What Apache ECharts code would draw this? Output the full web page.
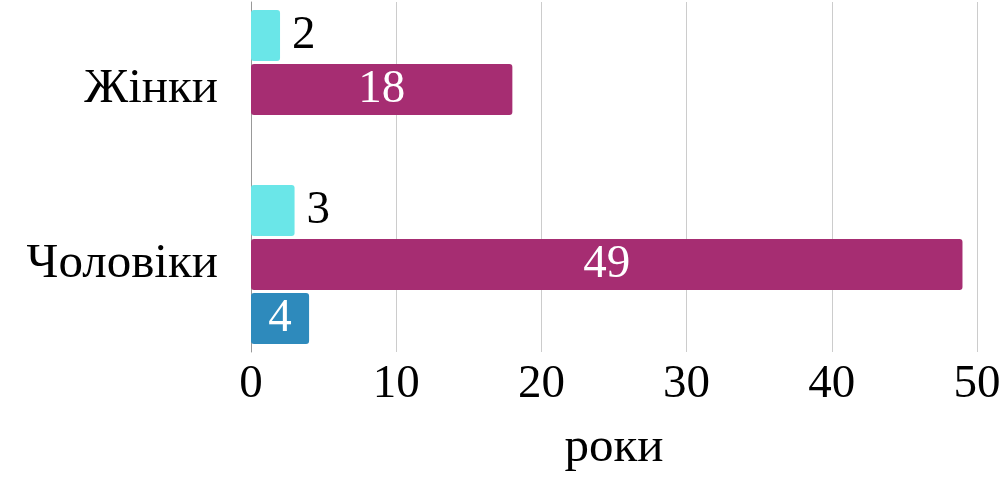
<!DOCTYPE html>
<html>
<head>
<meta charset="utf-8">
<script src="https://cdn.jsdelivr.net/npm/echarts@6.0.0/dist/echarts.min.js"></script>
<style>
  html, body { margin: 0; padding: 0; background: #fff; }
  #chart { width: 1004px; height: 478px; }
</style>
</head>
<body>
<div id="chart"></div>
<script>
const categories = ['Жінки', 'Чоловіки']
const seriesCyan = [2, 3]
const seriesMagenta = [18, 49]
const seriesBlue = [null, 4]
const xTicks = [0, 10, 20, 30, 40, 50]

const FONT = 'Liberation Serif'

const chart = echarts.init(document.getElementById('chart'))

function barSeries(data, color, labelPos, labelColor) {
  return {
    type: 'bar',
    data: data,
    barWidth: 51,
    barGap: '6%',
    itemStyle: {
      color: color,
      borderRadius: 3,
    },
    label: {
      show: true,
      position: labelPos,
      distance: 12,
      color: labelColor,
      fontFamily: FONT,
      fontSize: 47,
    },
    emphasis: { disabled: true },
  }
}

chart.setOption({
  animation: false,
  grid: {
    left: 251,
    right: 27,
    top: 2,
    bottom: 124,
  },
  xAxis: {
    type: 'value',
    min: xTicks[0],
    max: xTicks[xTicks.length - 1],
    interval: 10,
    name: 'роки',
    nameLocation: 'middle',
    nameGap: 72,
    nameTextStyle: {
      color: '#000',
      fontFamily: FONT,
      fontSize: 49,
    },
    axisLine: { show: false },
    axisTick: { show: false },
    axisLabel: {
      margin: 9,
      color: '#000',
      fontFamily: FONT,
      fontSize: 47,
    },
    splitLine: {
      lineStyle: { color: '#cccccc', width: 1 },
    },
  },
  yAxis: {
    type: 'category',
    data: categories,
    inverse: true,
    axisLine: {
      show: true,
      lineStyle: { color: '#999', width: 1 },
    },
    axisTick: { show: false },
    axisLabel: {
      margin: 33,
      color: '#000',
      fontFamily: FONT,
      fontSize: 49,
    },
  },
  series: [
    barSeries(seriesCyan, '#6ae6e8', 'right', '#000'),
    barSeries(seriesMagenta, '#a62d72', 'inside', '#fff'),
    barSeries(seriesBlue, '#2e8abc', 'inside', '#fff'),
  ],
})
</script>
</body>
</html>
